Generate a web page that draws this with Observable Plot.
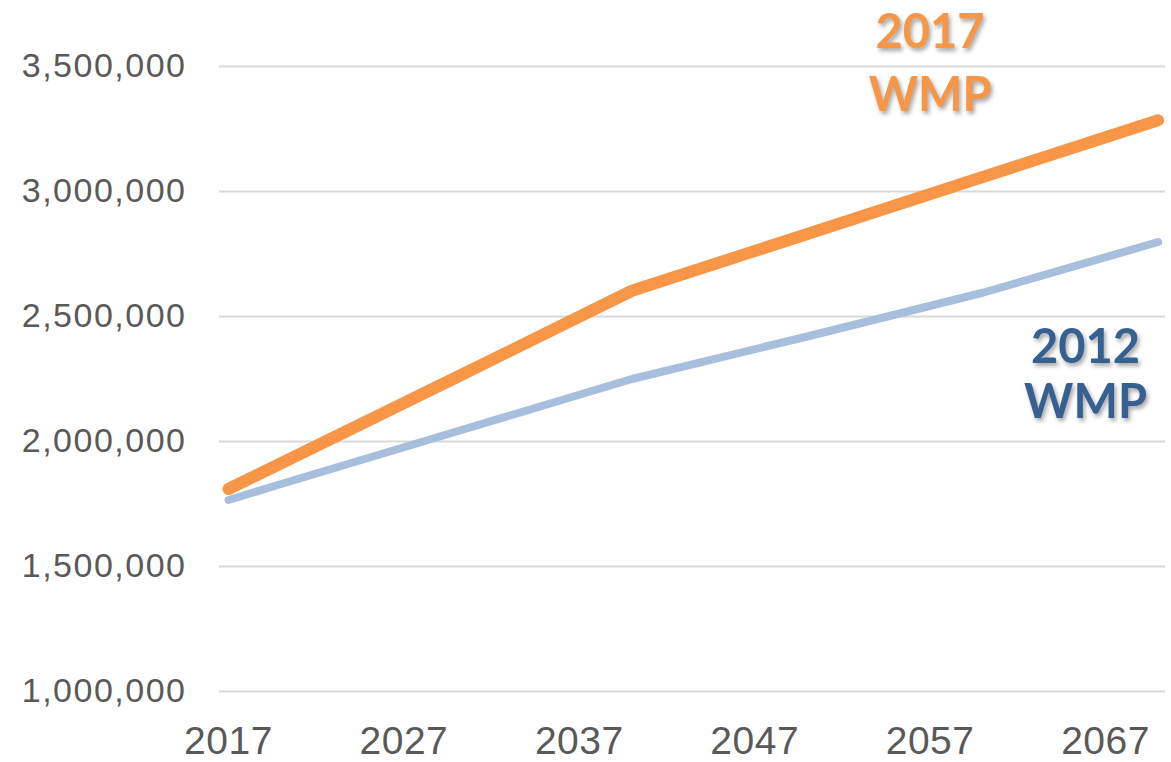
<!DOCTYPE html>
<html>
<head>
<meta charset="utf-8">
<script src="https://cdn.jsdelivr.net/npm/d3@7"></script>
<script src="https://cdn.jsdelivr.net/npm/@observablehq/plot@0.6"></script>
<style>
  html, body { margin: 0; padding: 0; background: #ffffff; }
  #chart svg { display: block; }
  #chart g[aria-label="y-axis tick label"] text { letter-spacing: 1.5px; }
  #chart g[aria-label="x-axis tick label"] text { letter-spacing: 0.5px; }
  #chart g[aria-description="series-label"] text { filter: drop-shadow(2px 3px 2px rgba(0,0,0,0.35)); }
</style>
</head>
<body>
<div id="chart"></div>
<script>
// Years of the projections
const years = [2017, 2020, 2030, 2040, 2050, 2060, 2070];
// 2017 WMP projection
const wmp2017 = [1810000, 1913000, 2257000, 2603000, 2830000, 3058000, 3285000];
// 2012 WMP projection
const wmp2012 = [1766000, 1830000, 2040000, 2250000, 2420000, 2595000, 2798000];
// Axis ticks
const yTicks = [1000000, 1500000, 2000000, 2500000, 3000000, 3500000];
const xTicks = [2017, 2027, 2037, 2047, 2057, 2067];
// Series labels
const seriesNames = ["2017\nWMP", "2012\nWMP"];

const orange = "#F79646";
const lightBlue = "#A7BFDD";
const darkBlue = "#376092";

const rows2017 = years.map((y, i) => ({year: y, value: wmp2017[i]}));
const rows2012 = years.map((y, i) => ({year: y, value: wmp2012[i]}));

const chart = Plot.plot({
  width: 1171,
  height: 762,
  marginLeft: 219,
  marginRight: 6,
  marginTop: 66,
  marginBottom: 71,
  style: {fontFamily: "'Liberation Sans', Arial, sans-serif", background: "#ffffff", overflow: "visible"},
  x: {domain: [2016.487, 2070.42], axis: null},
  y: {domain: [1000000, 3500000], axis: null},
  marks: [
    Plot.gridY(yTicks, {stroke: "#d9d9d9", strokeOpacity: 1, strokeWidth: 2}),
    Plot.axisY(yTicks, {
      tickSize: 0, tickPadding: 33, fontSize: 34, fill: "#595959",
      tickFormat: d3.format(","), label: null
    }),
    Plot.axisX(xTicks, {
      tickSize: 0, tickPadding: 35, fontSize: 39, fill: "#595959",
      tickFormat: d => String(d), label: null
    }),
    Plot.lineY(rows2012, {x: "year", y: "value", stroke: lightBlue, strokeWidth: 8, strokeLinecap: "round", strokeLinejoin: "round"}),
    Plot.lineY(rows2017, {x: "year", y: "value", stroke: orange, strokeWidth: 12, strokeLinecap: "round", strokeLinejoin: "round"}),
    Plot.text([seriesNames[0]], {
      x: 2057.0, y: 3529000, text: d => d, fill: orange,
      fontSize: 47, fontWeight: "bold", fontFamily: "Lato, 'Open Sans', sans-serif",
      lineHeight: 1.33, textAnchor: "middle", lineAnchor: "middle",
      ariaDescription: "series-label"
    }),
    Plot.text([seriesNames[1]], {
      x: 2065.86, y: 2275000, text: d => d, fill: darkBlue,
      fontSize: 47, fontWeight: "bold", fontFamily: "Lato, 'Open Sans', sans-serif",
      lineHeight: 1.18, textAnchor: "middle", lineAnchor: "middle",
      ariaDescription: "series-label"
    })
  ]
});

document.getElementById("chart").appendChild(chart);
</script>
</body>
</html>
